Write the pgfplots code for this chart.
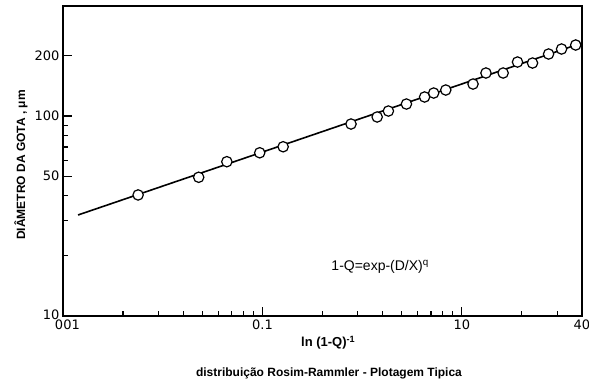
\documentclass[border=0pt]{standalone}
\usepackage{pgfplots}
\pgfplotsset{compat=1.18}
\usepackage{fontspec}
\setmainfont{Liberation Sans}
\newfontfamily\tickfont{DejaVu Sans}
\pgfplotstableread{
x y
0.0238 40.3
0.0479 49.4
0.0663 59.1
0.0969 65.5
0.127 70.2
0.278 91.2
0.376 98.9
0.428 105.9
0.527 114.8
0.650 124.5
0.722 130.3
0.830 134.9
1.137 144.5
1.32 164.1
1.61 164.1
1.90 186.2
2.26 184.1
2.72 204.2
3.16 216.3
3.72 226.5
}\drops
\begin{document}
\begin{tikzpicture}
\begin{axis}[
  name=ax,
  scale only axis,
  width=519pt, height=310pt,
  xmode=log, ymode=log,
  xmin=0.01, xmax=4, ymin=10, ymax=355,
  xtick={0.01,0.1,1,4},
  xticklabels={\makebox[0pt][l]{\hspace{-8pt}001},0.1,10,40},
  minor xtick={0.02,0.03,0.04,0.05,0.06,0.07,0.08,0.09,0.2,0.3,0.4,0.5,0.6,0.7,0.8,0.9,2,3},
  ytick={10,50,100,200},
  yticklabels={\raisebox{2.5pt}{10}\hspace{9pt},50,100,200},
  minor ytick={20,30,40,60,70,80,90},
  xtick pos=bottom, ytick pos=left,
  tick align=inside,
  major tick length=9pt, minor tick length=5.5pt,
  every tick/.style={black, line width=1.1pt},
  axis line style={black, line width=1.5pt},
  ticklabel style={font=\tickfont\fontsize{13}{13}\selectfont},
  /pgf/number format/assume math mode=true,
  xticklabel style={yshift=-0.5pt},
  xlabel={\bfseries ln (1-Q)\textsuperscript{-1}},
  xlabel style={at={(axis description cs:0.511,-0.087)}, anchor=center, font=\fontsize{13}{13}\selectfont},
  ylabel={DIÂMETRO DA GOTA , μm},
  ylabel style={at={(axis description cs:-0.081,0.487)}, anchor=center, font=\fontsize{12}{12}\selectfont\bfseries},
  clip=false,
]
\addplot[black, line width=1.6pt] coordinates {(0.0119,32.0) (3.99,231.7)};
\addplot[only marks, mark=*, mark size=5.2pt, mark options={fill=white, draw=black, line width=1.2pt}] table[x=x, y=y] {\drops};
\node[anchor=west, font=\fontsize{14}{14}\selectfont] at (axis cs:0.213,17.6) {1-Q=exp-(D/X)\textsuperscript{q}};
\node[anchor=center, font=\fontsize{12}{12}\selectfont\bfseries] at (axis description cs:0.5125,-0.184) {distribuição Rosim-Rammler - Plotagem Tipica};
\end{axis}
\pgfresetboundingbox
\path ([shift={(-63pt,-67pt)}]ax.south west) rectangle ([shift={(7pt,6pt)}]ax.north east);
\end{tikzpicture}
\end{document}
